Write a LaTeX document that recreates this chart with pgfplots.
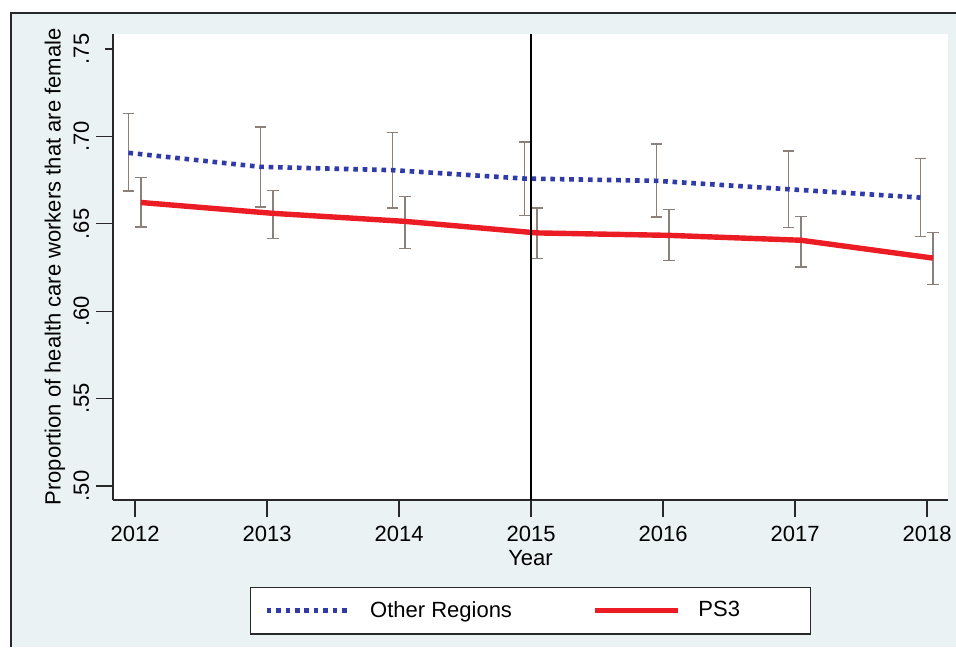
\documentclass[border=0pt]{standalone}
\usepackage{pgfplots}
\pgfplotsset{compat=1.18}
\usepackage{fontspec}
\setmainfont{Liberation Sans}
\definecolor{bgc}{RGB}{234,242,243}
\definecolor{bluel}{RGB}{48,58,168}
\definecolor{redl}{RGB}{236,28,36}
\definecolor{errc}{RGB}{140,128,122}
\definecolor{axc}{RGB}{40,40,40}
\begin{document}
\begin{tikzpicture}[x=1pt,y=1pt]
\useasboundingbox (0,0) rectangle (478,323.5);
\fill[white] (0,0) rectangle (478,323.5);
\fill[bgc] (5.5,0) rectangle (478,317);
\draw[axc, line width=1pt] (5.5,0) -- (5.5,317) -- (478,317);
\begin{axis}[
  at={(56.5pt,73.5pt)}, anchor=south west,
  scale only axis, width=417.5pt, height=233pt,
  xmin=2011.833, xmax=2018.159, ymin=0.492, ymax=0.7586,
  axis x line*=bottom, axis y line*=left,
  axis line style={-, axc, line width=0.6pt},
  axis background/.style={fill=white},
  font=\fontsize{11}{13}\selectfont,
  /pgf/number format/assume math mode=true,
  xtick={2012,2013,2014,2015,2016,2017,2018},
  xticklabels={2012,2013,2014,2015,2016,2017,2018},
  ytick={0.50,0.55,0.60,0.65,0.70,0.75},
  yticklabels={.50,.55,.60,.65,.70,.75},
  tick align=outside,
  major tick length=8.5pt,
  xtick style={axc, line width=0.6pt},
  ytick style={axc, line width=0.6pt, shorten <=4.5pt},
  yticklabel style={rotate=90, anchor=south, font=\fontsize{11}{13}\selectfont},
  xticklabel style={font=\fontsize{11}{13}\selectfont, yshift=-1pt},
  xlabel={Year},
  ylabel={Proportion of health care workers that are female},
  xlabel style={at={(axis description cs:0.5,-0.1245)}, anchor=center, font=\fontsize{11}{13}\selectfont},
  ylabel style={at={(axis description cs:-0.0695,0.5)}, anchor=center, font=\fontsize{11}{13}\selectfont},
  legend columns=2,
  legend style={at={(axis description cs:0.5,-0.2373)}, anchor=center,
    draw=axc, fill=white, line width=0.6pt, inner xsep=7pt, inner ysep=5pt,
    font=\fontsize{11}{13}\selectfont,
    /tikz/every odd column/.append style={column sep=7pt},
    /tikz/every even column/.append style={column sep=38pt}},
  legend cell align=left,
  legend image code/.code={\draw[#1] (0pt,0pt) -- (41.5pt,0pt);},
  clip=false,
]
% error bars: Other Regions
\addplot[draw=none, mark=none, forget plot,
  error bars/.cd, y dir=both, y explicit,
  error bar style={draw=errc, line width=0.7pt, solid},
  error mark options={draw=errc, line width=0.7pt, mark size=2.8pt, solid, rotate=90}]
coordinates {
(2011.95,0.6906) += (0,0.0226) -= (0,0.0219)
(2012.95,0.6826) += (0,0.0229) -= (0,0.0230)
(2013.95,0.6807) += (0,0.0217) -= (0,0.0217)
(2014.95,0.6759) += (0,0.0210) -= (0,0.0210)
(2015.95,0.6746) += (0,0.0210) -= (0,0.0207)
(2016.95,0.6698) += (0,0.0219) -= (0,0.0220)
(2017.95,0.6650) += (0,0.0224) -= (0,0.0221)
};
% error bars: PS3
\addplot[draw=none, mark=none, forget plot,
  error bars/.cd, y dir=both, y explicit,
  error bar style={draw=errc, line width=0.7pt, solid},
  error mark options={draw=errc, line width=0.7pt, mark size=2.8pt, solid, rotate=90}]
coordinates {
(2012.045,0.6622) += (0,0.0143) -= (0,0.0140)
(2013.045,0.6560) += (0,0.0132) -= (0,0.0145)
(2014.045,0.6514) += (0,0.0144) -= (0,0.0154)
(2015.045,0.6448) += (0,0.0143) -= (0,0.0148)
(2016.045,0.6434) += (0,0.0148) -= (0,0.0143)
(2017.045,0.6406) += (0,0.0137) -= (0,0.0153)
(2018.045,0.6304) += (0,0.0146) -= (0,0.0151)
};
\addplot[bluel, line width=2.3pt, dash pattern=on 2.3pt off 2.4pt, mark=none]
coordinates {
(2011.95,0.6906) (2012.95,0.6826) (2013.95,0.6807) (2014.95,0.6759)
(2015.95,0.6746) (2016.95,0.6698) (2017.95,0.6650)
};
\addlegendentry{Other Regions}
\addplot[redl, line width=2.7pt, mark=none]
coordinates {
(2012.045,0.6622) (2013.045,0.6560) (2014.045,0.6514) (2015.045,0.6448)
(2016.045,0.6434) (2017.045,0.6406) (2018.045,0.6304)
};
\addlegendentry{\makebox[47pt][l]{PS3}}
\addplot[black, line width=0.8pt, forget plot] coordinates {(2015,0.492) (2015,0.7586)};
\end{axis}
\end{tikzpicture}
\end{document}
